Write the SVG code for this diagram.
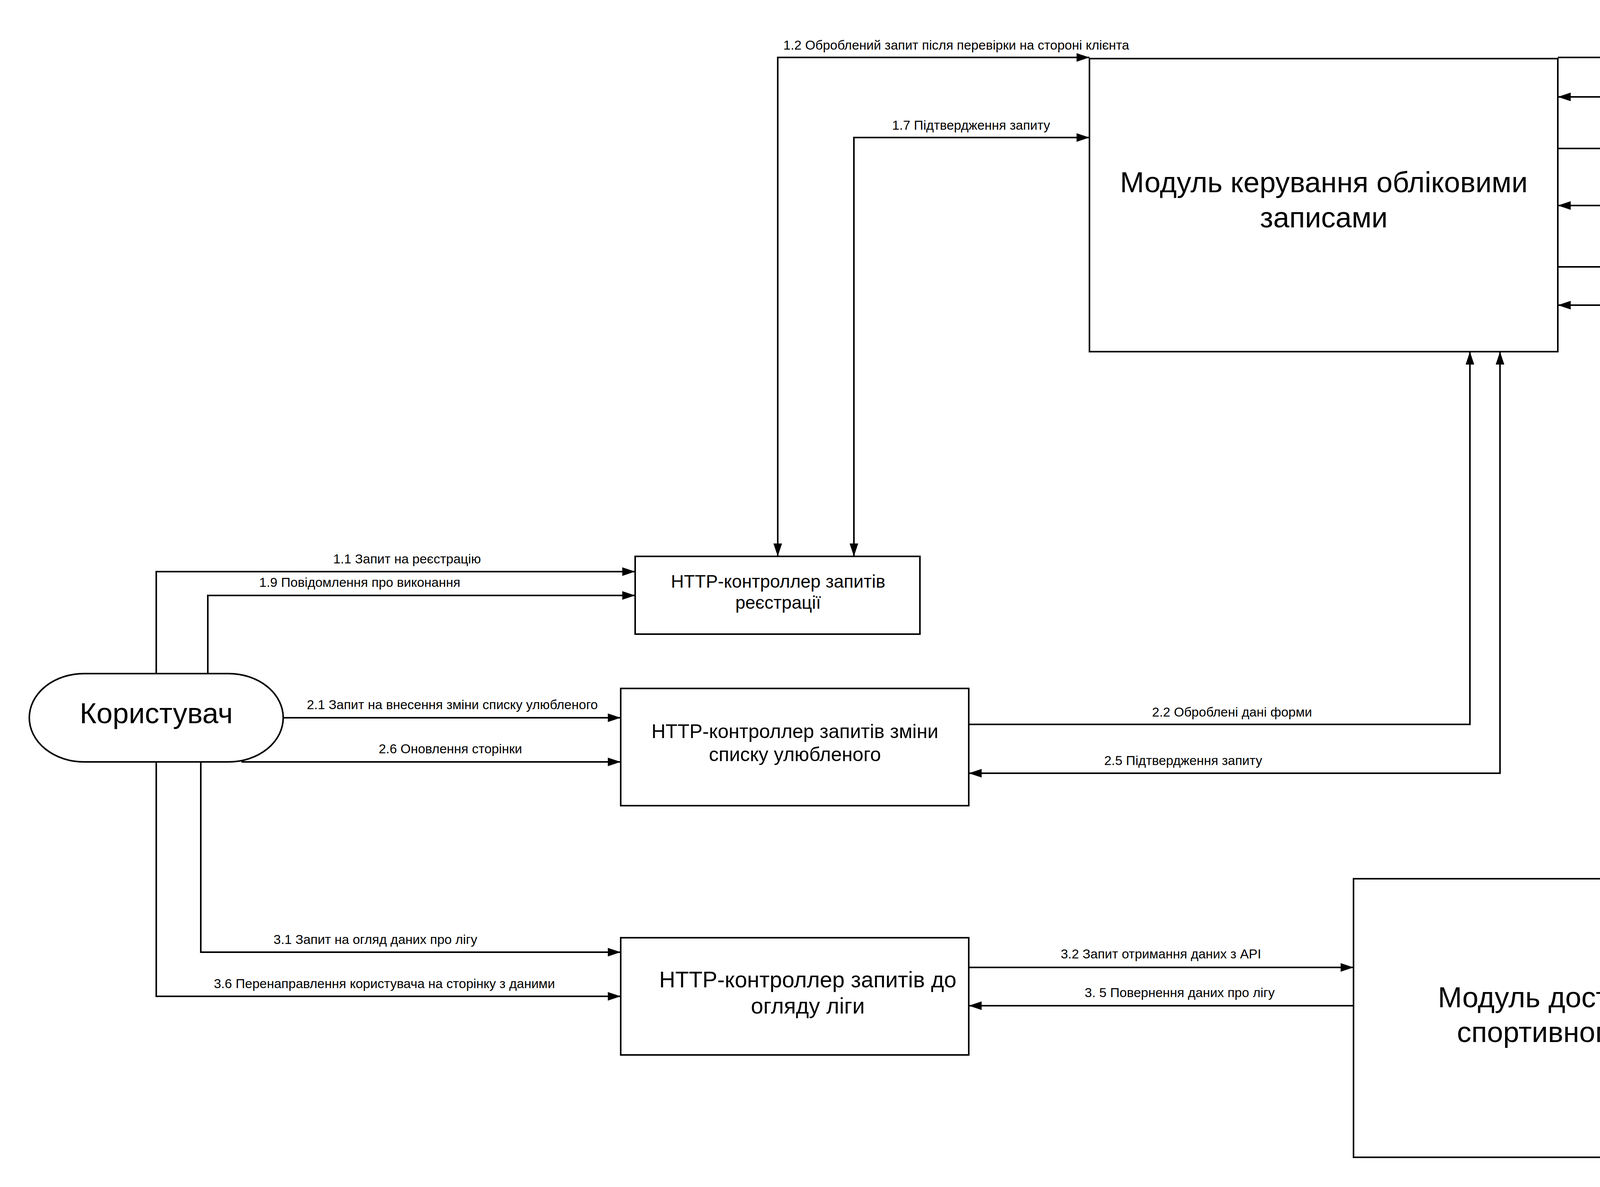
<svg xmlns="http://www.w3.org/2000/svg" width="7553" height="3038" viewBox="0 0 7553 3038">
<style>
.box{fill:#fff;stroke:#000;stroke-width:4}
.c{fill:none;stroke:#000;stroke-width:4}
text{font-family:"Liberation Sans",Arial,sans-serif;fill:#000;text-anchor:middle}
.lbl{font-size:33.5px}
.big{font-size:74px}
</style>
<defs>
<marker id="ah" viewBox="0 0 33 22" refX="33" refY="11" markerWidth="33" markerHeight="22" markerUnits="userSpaceOnUse" orient="auto-start-reverse">
<path d="M0,0 L33,11 L0,22 Z" fill="#000"/>
</marker>
</defs>
<rect width="7553" height="3038" fill="#fff"/>

<g id="module-accounts">
<rect class="box" x="2789" y="150" width="1199" height="750"/>
<text class="big" x="3389" y="492">Модуль керування обліковими</text>
<text class="big" x="3389" y="582">записами</text>
</g>
<g id="orm-subsystem">
<rect class="box" x="4776" y="74" width="1538" height="900"/>
<text class="big" x="5545" y="487">Підсистема керування базою даних на</text>
<text class="big" x="5545" y="576">основі ORM</text>
</g>
<g id="database">
<path class="box" d="M6766,397 A355,51 0 0,1 7476,397 L7476,850 A355,49 0 0,1 6766,850 Z"/>
<path class="c" d="M6766,397 A355,51 0 0,0 7476,397"/>
<text class="big" x="7121" y="692">База даних</text>
</g>
<g id="user">
<rect class="box" x="75" y="1724" width="650" height="226" rx="140" ry="113"/>
<text class="big" x="400" y="1851">Користувач</text>
</g>
<g id="http-registration">
<rect class="box" x="1626" y="1424" width="729" height="199"/>
<text x="1992" y="1504" font-size="46">HTTP-контроллер запитів</text>
<text x="1992" y="1558" font-size="46">реєстрації</text>
</g>
<g id="http-favorites">
<rect class="box" x="1589" y="1762" width="891" height="300"/>
<text x="2035" y="1889" font-size="50">HTTP-контроллер запитів зміни</text>
<text x="2035" y="1948" font-size="50">списку улюбленого</text>
</g>
<g id="http-league">
<rect class="box" x="1589" y="2400" width="891" height="300"/>
<text x="2068" y="2527" font-size="57">HTTP-контроллер запитів до</text>
<text x="2068" y="2594" font-size="57">огляду ліги</text>
</g>
<g id="sports-api-module">
<rect class="box" x="3465" y="2249" width="1085" height="713"/>
<text class="big" x="4010" y="2578">Модуль доступу до</text>
<text class="big" x="4010" y="2667">спортивного API</text>
</g>
<g id="sports-api">
<path class="box" d="M5041,2292 A392.5,42 0 0,1 5826,2292 L5826,2621 A392.5,42 0 0,1 5041,2621 Z"/>
<path class="c" d="M5041,2292 A392.5,42 0 0,0 5826,2292"/>
<text class="big" x="5436" y="2506">Спортивне API</text>
</g>

<g id="connectors">
<path class="c" d="M400,1724 V1463 H1626" marker-end="url(#ah)"/>
<text class="lbl" x="1042" y="1442">1.1 Запит на реєстрацію</text>
<path class="c" d="M532,1724 V1524 H1626" marker-end="url(#ah)"/>
<text class="lbl" x="921" y="1502">1.9 Повідомлення про виконання</text>
<path class="c" d="M1991,1424 V147 H2789" marker-start="url(#ah)" marker-end="url(#ah)"/>
<text class="lbl" x="2448" y="127">1.2 Оброблений запит після перевірки на стороні клієнта</text>
<path class="c" d="M2186,1424 V352 H2789" marker-start="url(#ah)" marker-end="url(#ah)"/>
<text class="lbl" x="2486" y="332">1.7 Підтвердження запиту</text>
<path class="c" d="M3988,147 H4776" marker-end="url(#ah)"/>
<text class="lbl" x="4382" y="127">1.3 Перевірка унікальності</text>
<path class="c" d="M4776,248 H3988" marker-end="url(#ah)"/>
<text class="lbl" x="4422" y="227">1.4 Підтвердження унікальності</text>
<path class="c" d="M3988,380 H4776" marker-end="url(#ah)"/>
<text class="lbl" x="4383" y="359">1.5 Внесення даних про користувача</text>
<path class="c" d="M4776,526 H3988" marker-end="url(#ah)"/>
<text class="lbl" x="4382" y="505">1.6 Підтвердження запиту</text>
<path class="c" d="M3988,683 H4776" marker-end="url(#ah)"/>
<text class="lbl" x="4382" y="662">2.3 Зміна даних про користувача</text>
<path class="c" d="M4776,781 H3988" marker-end="url(#ah)"/>
<text class="lbl" x="4344" y="760">2.4 Підтвердження запиту</text>
<path class="c" d="M6314,614 H6540 V619 H6766" marker-start="url(#ah)" marker-end="url(#ah)"/>
<text class="lbl" x="6540" y="595">Взаємодія</text>
<path class="c" d="M725,1837 H1589" marker-end="url(#ah)"/>
<text class="lbl" x="1158" y="1815">2.1 Запит на внесення зміни списку улюбленого</text>
<path class="c" d="M618,1950 H1589" marker-end="url(#ah)"/>
<text class="lbl" x="1153" y="1928">2.6 Оновлення сторінки</text>
<path class="c" d="M2480,1854 H3763 V900" marker-end="url(#ah)"/>
<text class="lbl" x="3154" y="1834">2.2 Оброблені дані форми</text>
<path class="c" d="M3840,900 V1979 H2480" marker-start="url(#ah)" marker-end="url(#ah)"/>
<text class="lbl" x="3029" y="1958">2.5 Підтвердження запиту</text>
<path class="c" d="M514,1950 V2437 H1589" marker-end="url(#ah)"/>
<text class="lbl" x="961" y="2416">3.1 Запит на огляд даних про лігу</text>
<path class="c" d="M400,1950 V2550 H1589" marker-end="url(#ah)"/>
<text class="lbl" x="984" y="2529">3.6 Перенаправлення користувача на сторінку з даними</text>
<path class="c" d="M2480,2476 H3465" marker-end="url(#ah)"/>
<text class="lbl" x="2972" y="2453">3.2 Запит отримання даних з API</text>
<path class="c" d="M3465,2574 H2480" marker-end="url(#ah)"/>
<text class="lbl" x="3020" y="2552">3. 5 Повернення даних про лігу</text>
<path class="c" d="M4550,2456 H5041" marker-end="url(#ah)"/>
<text class="lbl" x="4795" y="2435">3.3 REST запит</text>
<path class="c" d="M5041,2550 H4550" marker-end="url(#ah)"/>
<text class="lbl" x="4795" y="2528">3.4 JSON об'єкт</text>
</g>
</svg>
